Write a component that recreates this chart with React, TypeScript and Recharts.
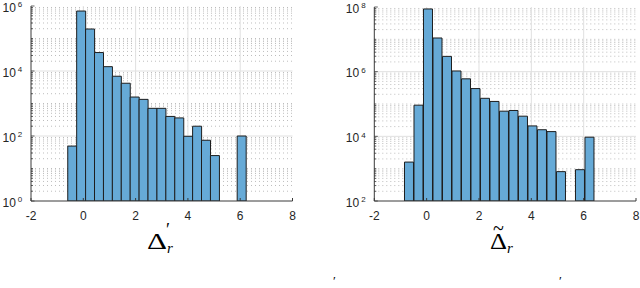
import { BarChart, Bar, XAxis, YAxis, CartesianGrid } from 'recharts'

// ---------- data ----------

// left panel: Δ'_r histogram (bin centres, counts)
const leftCentres = [
  -0.424, -0.083, 0.258, 0.599, 0.94, 1.281, 1.622, 1.963, 2.304, 2.645,
  2.986, 3.327, 3.668, 4.009, 4.35, 4.691, 5.032, 5.373, 5.714, 6.055,
]
const leftCounts = [
  49, 7.0e5, 1.96e5, 3.7e4, 1.36e4, 6.9e3, 4.2e3, 1.58e3, 1.34e3, 710,
  710, 400, 360, 98, 200, 74, 25, null, null, 100,
]

// right panel: Δ~_r histogram
const rightCentres = [
  -0.665, -0.302, 0.061, 0.424, 0.787, 1.15, 1.513, 1.876, 2.239, 2.602,
  2.965, 3.328, 3.691, 4.054, 4.417, 4.78, 5.143, 5.506, 5.869, 6.232,
]
const rightCounts = [
  1.6e3, 9.2e4, 8.7e7, 1.1e7, 2.97e6, 1.05e6, 6.0e5, 3.0e5, 1.5e5, 1.2e5,
  6.0e4, 6.3e4, 4.2e4, 2.1e4, 1.6e4, 1.4e4, 810, null, 930, 9.4e3,
]

const xTicks = [-2, 0, 2, 4, 6, 8]
const leftMajor = [1, 1e2, 1e4, 1e6]
const rightMajor = [1e2, 1e4, 1e6, 1e8]

// ---------- helpers ----------

// minor log positions (2..9 × 10^k and the unlabelled decades)
function minorTicks(loExp: number, hiExp: number, majors: number[]) {
  const out: number[] = []
  for (let e = loExp; e < hiExp; e++) {
    for (let m = 1; m < 10; m++) {
      const v = m * Math.pow(10, e)
      if (!majors.includes(v)) out.push(v)
    }
  }
  return out
}

const leftMinor = minorTicks(0, 6, leftMajor)
const rightMinor = minorTicks(2, 8, rightMajor)

const AXIS = '#3a3a3a'
const TICK_FONT = "'Liberation Sans', Arial, sans-serif"
const MATH_FONT = "'Liberation Serif', 'DejaVu Serif', serif"

function XTickBottom({ x, y, payload }: any) {
  return (
    <g>
      <line x1={x} x2={x} y1={y} y2={y - 3} stroke={AXIS} />
      <text x={x} y={y + 19} textAnchor="middle" fontSize={12} fill="#262626" fontFamily={TICK_FONT}>
        {payload.value}
      </text>
    </g>
  )
}

function XTickTop({ x, y }: any) {
  return <line x1={x} x2={x} y1={y} y2={y + 3} stroke={AXIS} />
}

function makeYTick(majors: number[], side: 'left' | 'right') {
  return function YTick({ x, y, payload }: any) {
    const major = majors.includes(payload.value)
    const len = major ? 3.5 : 2
    const dir = side === 'left' ? 1 : -1
    const exp = Math.round(Math.log10(payload.value))
    return (
      <g>
        <line x1={x} x2={x + dir * len} y1={y} y2={y} stroke={AXIS} strokeWidth={0.8} />
        {side === 'left' && major && (
          <text x={x - 28.5} y={y + 5.5} fontSize={12} fill="#262626" fontFamily={TICK_FONT}>
            10
            <tspan dx={2} dy={-4.3} fontSize={8}>
              {exp}
            </tspan>
          </text>
        )}
      </g>
    )
  }
}

// ---------- one histogram panel ----------

interface PanelProps {
  centres: number[]
  counts: (number | null)[]
  majors: number[]
  minors: number[]
  domain: [number, number]
  left: number
  yAxisWidth: number
  marginRight: number
  marginTop: number
}

function Panel({ centres, counts, majors, minors, domain, left, yAxisWidth, marginRight, marginTop }: PanelProps) {
  const data = centres.map((c, i) => ({ x: c, n: counts[i] }))
  const allY = [...majors, ...minors].sort((a, b) => a - b)
  const LeftTick = makeYTick(majors, 'left')
  const RightTick = makeYTick(majors, 'right')

  return (
    <div style={{ position: 'absolute', left, top: 0 }}>
      <BarChart
        width={320}
        height={288}
        data={data}
        margin={{ top: marginTop, right: marginRight, bottom: 67, left: 0 }}
        barCategoryGap={0}
        barGap={0}
      >
        <CartesianGrid
          xAxisId="b"
          yAxisId="l"
          horizontalValues={minors}
          vertical={false}
          stroke="#bdbdbd"
          strokeDasharray="1 3"
        />
        <CartesianGrid
          xAxisId="b"
          yAxisId="l"
          horizontalValues={majors.slice(1, -1)}
          verticalValues={xTicks.slice(1, -1)}
          stroke="#e0e0e0"
        />
        <XAxis
          xAxisId="b"
          dataKey="x"
          type="number"
          domain={[-2, 8]}
          ticks={xTicks}
          interval={0}
          allowDataOverflow
          height={20}
          tickSize={0}
          tickMargin={0}
          tick={<XTickBottom />}
          axisLine={{ stroke: AXIS }}
        />
        <XAxis
          xAxisId="t"
          orientation="top"
          dataKey="x"
          type="number"
          domain={[-2, 8]}
          ticks={xTicks}
          interval={0}
          allowDataOverflow
          height={0}
          tickSize={0}
          tickMargin={0}
          tick={<XTickTop />}
          axisLine={{ stroke: AXIS }}
        />
        <YAxis
          yAxisId="l"
          scale="log"
          type="number"
          domain={domain}
          ticks={allY}
          interval={0}
          allowDataOverflow
          width={yAxisWidth}
          tickSize={0}
          tickMargin={0}
          tick={<LeftTick />}
          axisLine={{ stroke: AXIS }}
        />
        <YAxis
          yAxisId="r"
          orientation="right"
          scale="log"
          type="number"
          domain={domain}
          ticks={allY}
          interval={0}
          allowDataOverflow
          width={0}
          tickSize={0}
          tickMargin={0}
          tick={<RightTick />}
          axisLine={{ stroke: AXIS }}
        />
        <Bar
          xAxisId="b"
          yAxisId="l"
          dataKey="n"
          fill="#66aad7"
          stroke="#1e1e1e"
          strokeWidth={1}
          isAnimationActive={false}
        />
      </BarChart>
    </div>
  )
}

// ---------- axis labels (LaTeX-like), each one a single text element ----------

function Labels() {
  return (
    <svg width={640} height={288} style={{ position: 'absolute', left: 0, top: 0, pointerEvents: 'none' }}>
      <g fontFamily={MATH_FONT} fill="#000">
        {/* Δ'_r */}
        <text fontSize={23}>
          <tspan x={147} y={249} textLength={20} lengthAdjust="spacingAndGlyphs">Δ</tspan>
          <tspan x={166} y={236} fontSize={18}>′</tspan>
          <tspan x={167} y={253.3} fontSize={15} fontStyle="italic">r</tspan>
        </text>

        {/* Δ~_r */}
        <text fontSize={23}>
          <tspan x={490} y={249} textLength={17} lengthAdjust="spacingAndGlyphs">Δ</tspan>
          <tspan x={493} y={235.4} fontSize={20}>~</tspan>
          <tspan x={507} y={253.3} fontSize={15} fontStyle="italic">r</tspan>
        </text>

        {/* primes from the row below, cut off by the frame */}
        <text x={333} y={285} fontSize={13}>′</text>
        <text x={559} y={285} fontSize={13}>′</text>
      </g>
    </svg>
  )
}

export default function App() {
  return (
    <div style={{ position: 'absolute', left: 0, top: 0, width: 640, height: 288, background: '#fff', overflow: 'hidden' }}>
      <Panel
        centres={leftCentres}
        counts={leftCounts}
        majors={leftMajor}
        minors={leftMinor}
        domain={[1, 1e6]}
        left={0}
        yAxisWidth={31}
        marginRight={27.5}
        marginTop={6}
      />
      <Panel
        centres={rightCentres}
        counts={rightCounts}
        majors={rightMajor}
        minors={rightMinor}
        domain={[1e2, 1e8]}
        left={320}
        yAxisWidth={54.3}
        marginRight={4}
        marginTop={7}
      />
      <Labels />
    </div>
  )
}
